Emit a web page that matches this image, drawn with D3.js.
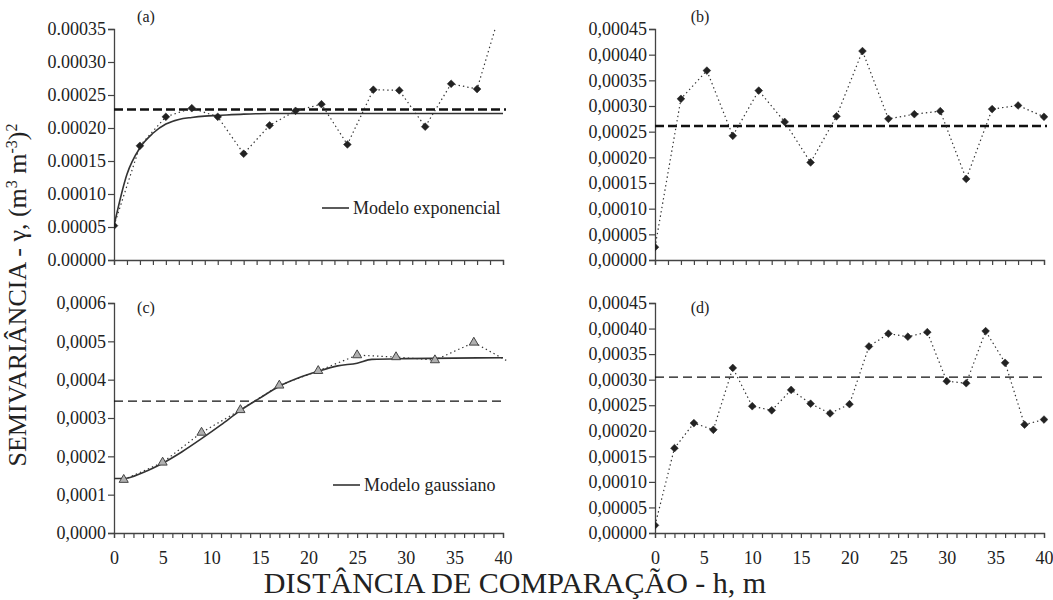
<!DOCTYPE html>
<html>
<head>
<meta charset="utf-8">
<script src="https://cdn.jsdelivr.net/npm/d3@7"></script>
<style>
body { margin: 0; background: #fff; }
text { font-family: "Liberation Serif", "Times New Roman", serif; fill: #222; }
</style>
</head>
<body>
<script>
// panel (a) - semivariograma experimental + modelo exponencial
var lagA = [0, 2, 4, 6, 8, 10, 12, 14, 16, 18, 20, 22, 24, 26, 28, 30];
var gamaA = [0.000052, 0.000173, 0.000217, 0.000230, 0.000217, 0.000161, 0.000204, 0.000226,
             0.000236, 0.000175, 0.000258, 0.000257, 0.000202, 0.000267, 0.000259, 0.000390];
var modeloLagA = [0, 1, 2, 3, 4, 5, 6, 7, 8, 10, 12, 30];
var modeloA = [0.000052, 0.000130, 0.000170, 0.000192, 0.000206, 0.000213, 0.000216, 0.000218,
               0.000219, 0.000221, 0.000222, 0.000222];
var patamarA = 0.000228;

// panel (b)
var lagB = [0, 2, 4, 6, 8, 10, 12, 14, 16, 18, 20, 22, 24, 26, 28, 30];
var gamaB = [0.000025, 0.000314, 0.000369, 0.000242, 0.000330, 0.000269, 0.000190, 0.000280,
             0.000407, 0.000275, 0.000284, 0.000290, 0.000158, 0.000294, 0.000301, 0.000279];
var patamarB = 0.000261;

// panel (c) - modelo gaussiano
var lagC = [1, 5, 9, 13, 17, 21, 25, 29, 33, 37, 41];
var gamaC = [0.000139, 0.000184, 0.000262, 0.000321, 0.000385, 0.000423, 0.000464, 0.000459,
             0.000451, 0.000497, 0.000441];
var modeloLagC = [0, 1, 3, 5, 7, 9, 11, 13, 15, 17, 19, 21, 23, 25, 26.5, 30, 40];
var modeloC = [0.000142, 0.000142, 0.000158, 0.000182, 0.000212, 0.000246, 0.000282, 0.000320,
               0.000352, 0.000383, 0.000405, 0.000422, 0.000436, 0.000443, 0.000453, 0.000455, 0.000457];
var patamarC = 0.000344;

// panel (d)
var lagD = [0, 2, 4, 6, 8, 10, 12, 14, 16, 18, 20, 22, 24, 26, 28, 30, 32, 34, 36, 38, 40];
var gamaD = [0.000015, 0.000166, 0.000215, 0.000202, 0.000323, 0.000248, 0.000240, 0.000280,
             0.000253, 0.000234, 0.000252, 0.000365, 0.000390, 0.000384, 0.000393, 0.000297,
             0.000293, 0.000395, 0.000333, 0.000212, 0.000222];
var patamarD = 0.000305;

var yTicksA = [0, 0.00005, 0.0001, 0.00015, 0.0002, 0.00025, 0.0003, 0.00035];
var yTicksB = [0, 0.00005, 0.0001, 0.00015, 0.0002, 0.00025, 0.0003, 0.00035, 0.0004, 0.00045];
var yTicksC = [0, 0.0001, 0.0002, 0.0003, 0.0004, 0.0005, 0.0006];

var width = 1053, height = 600;
var svg = d3.select("body").append("svg")
    .attr("width", width)
    .attr("height", height);

var panels = [
    {id: "a", x0: 114, x1: 503, y0: 29, y1: 260, xmax: 30, yTicks: yTicksA, fmt: ".5f", sep: ".",
     lag: lagA, gama: gamaA, sym: "diamond", patamar: patamarA, thick: true,
     mLag: modeloLagA, modelo: modeloA, legend: "Modelo exponencial", lx: 322, ly: 208},
    {id: "b", x0: 655, x1: 1044, y0: 29, y1: 260, xmax: 30, yTicks: yTicksB, fmt: ".5f", sep: ",",
     lag: lagB, gama: gamaB, sym: "diamond", patamar: patamarB, thick: true},
    {id: "c", x0: 114, x1: 503, y0: 303, y1: 533, xmax: 40, yTicks: yTicksC, fmt: ".4f", sep: ",",
     lag: lagC, gama: gamaC, sym: "triangle", patamar: patamarC, thick: false, labels: true,
     mLag: modeloLagC, modelo: modeloC, legend: "Modelo gaussiano", lx: 333, ly: 485},
    {id: "d", x0: 655, x1: 1044, y0: 303, y1: 533, xmax: 40, yTicks: yTicksB, fmt: ".5f", sep: ",",
     lag: lagD, gama: gamaD, sym: "diamond", patamar: patamarD, thick: false, labels: true}
];

panels.forEach(function (p) {
    var x = d3.scaleLinear().domain([0, p.xmax]).range([p.x0, p.x1]);
    var y = d3.scaleLinear().domain([0, p.yTicks[p.yTicks.length - 1]]).range([p.y1, p.y0]);
    var f = d3.format(p.fmt);
    var g = svg.append("g");

    g.append("clipPath").attr("id", "clip-" + p.id)
        .append("rect")
        .attr("x", p.x0).attr("y", p.y0)
        .attr("width", p.x1 - p.x0 + 4).attr("height", p.y1 - p.y0);

    // eixo y
    var ay = g.append("g")
        .attr("transform", "translate(" + p.x0 + ",0)")
        .call(d3.axisLeft(y).tickValues(p.yTicks).tickSize(6).tickPadding(2)
            .tickFormat(function (d) { return f(d).replace(".", p.sep); }));
    // eixo x
    var ax = g.append("g")
        .attr("transform", "translate(0," + p.y1 + ")")
        .call(d3.axisBottom(x).tickValues(d3.range(0, p.xmax + 1)).tickSize(5).tickPadding(13)
            .tickFormat(function (d) { return (p.labels && d % 5 === 0) ? d : ""; }));
    [ay, ax].forEach(function (a) {
        a.select(".domain").attr("stroke", "#444").attr("stroke-width", 1.3);
        a.selectAll(".tick line").attr("stroke", "#444").attr("stroke-width", 1.2);
        a.selectAll("text").attr("font-size", 18).attr("font-family", "Liberation Serif").attr("fill", "#222");
    });

    var plot = g.append("g").attr("clip-path", "url(#clip-" + p.id + ")");

    // patamar (linha tracejada)
    plot.append("line")
        .attr("x1", x(0)).attr("x2", x(p.xmax) + 3)
        .attr("y1", y(p.patamar)).attr("y2", y(p.patamar))
        .attr("stroke", "#111")
        .attr("stroke-width", p.thick ? 2.6 : 1.3)
        .attr("stroke-dasharray", p.thick ? "9,4" : "9,5");

    // modelo ajustado
    if (p.modelo) {
        var mline = d3.line()
            .x(function (d, i) { return x(p.mLag[i]); })
            .y(function (d) { return y(d); })
            .curve(d3.curveMonotoneX);
        plot.append("path")
            .attr("d", mline(p.modelo))
            .attr("fill", "none")
            .attr("stroke", "#333")
            .attr("stroke-width", 1.6);
    }

    // semivariograma experimental
    var line = d3.line()
        .x(function (d, i) { return x(p.lag[i]); })
        .y(function (d) { return y(d); });
    plot.append("path")
        .attr("d", line(p.gama))
        .attr("fill", "none")
        .attr("stroke", "#333")
        .attr("stroke-width", 1.2)
        .attr("stroke-dasharray", "1.4,3");

    var sym = p.sym === "diamond"
        ? d3.symbol().type(d3.symbolSquare).size(30)
        : d3.symbol().type(d3.symbolTriangle).size(36);
    plot.selectAll(".pt")
        .data(p.gama)
        .enter().append("path")
        .attr("class", "pt")
        .attr("d", sym)
        .attr("transform", function (d, i) {
            return "translate(" + x(p.lag[i]) + "," + y(d) + ")" + (p.sym === "diamond" ? " rotate(45)" : "");
        })
        .attr("fill", p.sym === "diamond" ? "#222" : "#b0b0b0")
        .attr("stroke", p.sym === "diamond" ? "#222" : "#444")
        .attr("stroke-width", p.sym === "diamond" ? 0.5 : 1);

    // rotulo do painel
    g.append("text")
        .attr("x", p.id === "a" || p.id === "c" ? p.x0 + 32 : p.x0 + 45)
        .attr("y", p.y0 - 7 + (p.id === "c" || p.id === "d" ? 17 : 0))
        .attr("text-anchor", "middle")
        .attr("font-size", 16)
        .text("(" + p.id + ")");

    // legenda
    if (p.legend) {
        g.append("line")
            .attr("x1", p.lx).attr("x2", p.lx + 27)
            .attr("y1", p.ly).attr("y2", p.ly)
            .attr("stroke", "#333").attr("stroke-width", 1.6);
        g.append("text")
            .attr("x", p.lx + 31).attr("y", p.ly + 6)
            .attr("font-size", 18)
            .text(p.legend);
    }
});

// titulos dos eixos
svg.append("text")
    .attr("x", 515).attr("y", 593)
    .attr("text-anchor", "middle")
    .attr("font-size", 30)
    .text("DISTÂNCIA DE COMPARAÇÃO - h, m");

var yt = svg.append("text")
    .attr("transform", "translate(26,295) rotate(-90)")
    .attr("text-anchor", "middle")
    .attr("font-size", 26);
yt.append("tspan").text("SEMIVARIÂNCIA - γ, (m");
yt.append("tspan").attr("font-size", 16).attr("dy", -9).text("3");
yt.append("tspan").attr("dy", 9).text(" m");
yt.append("tspan").attr("font-size", 16).attr("dy", -9).text("-3");
yt.append("tspan").attr("dy", 9).text(")");
yt.append("tspan").attr("font-size", 16).attr("dy", -9).text("2");
</script>
</body>
</html>
